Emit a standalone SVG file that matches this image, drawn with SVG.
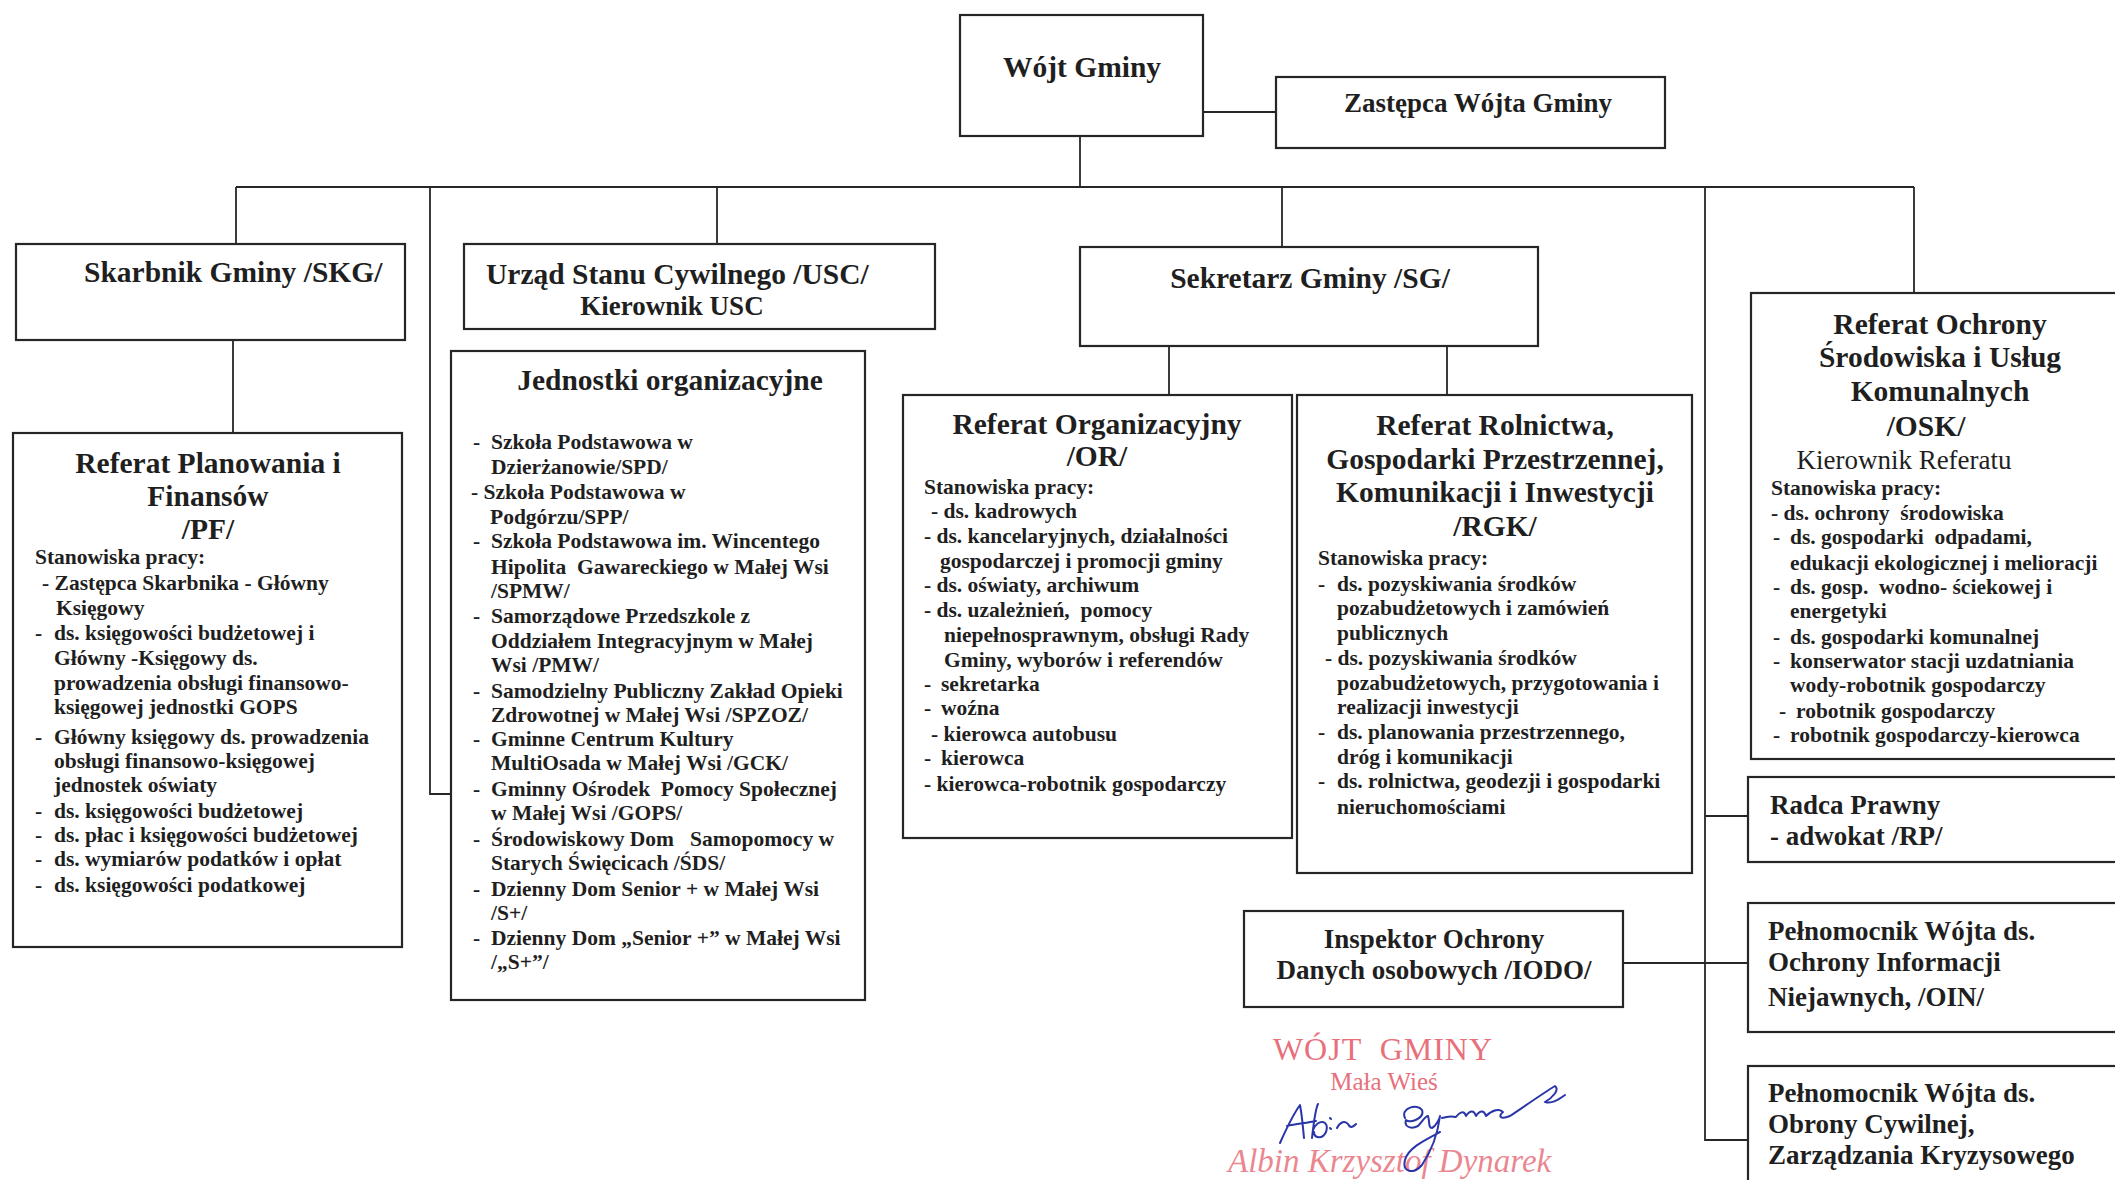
<svg xmlns="http://www.w3.org/2000/svg" width="2115" height="1180" viewBox="0 0 2115 1180">
<style>
.box{fill:#fff;stroke:#262626;stroke-width:2.2}
.conn{fill:none;stroke:#262626;stroke-width:1.8}
.t{font-family:"Liberation Serif","Times New Roman",serif;font-weight:bold;fill:#1f1f1f;white-space:pre}
.ti{font-size:29.5px;text-anchor:middle}
.hd{font-size:29.5px}
.md{font-size:27px}
.b{font-size:21.5px}
.reg{font-weight:normal}
.c{text-anchor:middle}
.stamp{font-family:"Liberation Serif","Times New Roman",serif;fill:#e8707c;white-space:pre}
.sig{fill:none;stroke:#2a35a8;stroke-width:2;stroke-linecap:round;stroke-linejoin:round}
</style>
<rect width="2115" height="1180" fill="#fff"/>

<g id="connectors">
<path class="conn" d="M1203,112 H1276"/>
<path class="conn" d="M1080,136 V187"/>
<path class="conn" d="M236,187 H1914"/>
<path class="conn" d="M236,187 V244"/>
<path class="conn" d="M430,187 V794 H451"/>
<path class="conn" d="M717,187 V244"/>
<path class="conn" d="M1282,187 V248"/>
<path class="conn" d="M1705,187 V1140 H1748"/>
<path class="conn" d="M1914,187 V293"/>
<path class="conn" d="M233,340 V433"/>
<path class="conn" d="M1169,346 V394"/>
<path class="conn" d="M1447,346 V395"/>
<path class="conn" d="M1705,816 H1748"/>
<path class="conn" d="M1623,963 H1748"/>
</g>

<g id="wojt">
<rect class="box" x="960" y="15" width="243" height="121"/>
<text class="t ti" x="1082" y="77">Wójt Gminy</text>
</g>

<g id="zastepca">
<rect class="box" x="1276" y="77" width="389" height="71"/>
<text class="t md c" x="1478" y="112">Zastępca Wójta Gminy</text>
</g>

<g id="skarbnik">
<rect class="box" x="16" y="244" width="389" height="96"/>
<text class="t hd" x="84" y="282">Skarbnik Gminy /SKG/</text>
</g>

<g id="usc">
<rect class="box" x="464" y="244" width="471" height="85"/>
<text class="t hd" x="486" y="284">Urząd Stanu Cywilnego /USC/</text>
<text class="t md c" x="672" y="315">Kierownik USC</text>
</g>

<g id="sekretarz">
<rect class="box" x="1080" y="247" width="458" height="99"/>
<text class="t ti" x="1310" y="288">Sekretarz Gminy /SG/</text>
</g>

<g id="pf">
<rect class="box" x="13" y="433" width="389" height="514"/>
<text class="t ti" x="208" y="473">Referat Planowania i</text>
<text class="t ti" x="208" y="506">Finansów</text>
<text class="t ti" x="208" y="539">/PF/</text>
<text class="t b" x="35" y="564">Stanowiska pracy:</text>
<text class="t b" x="42" y="590">- Zastępca Skarbnika - Główny</text>
<text class="t b" x="56" y="615">Księgowy</text>
<text class="t b" x="35" y="640">-</text><text class="t b" x="54" y="640">ds. księgowości budżetowej i</text>
<text class="t b" x="54" y="665">Główny -Księgowy ds.</text>
<text class="t b" x="54" y="690">prowadzenia obsługi finansowo-</text>
<text class="t b" x="54" y="714">księgowej jednostki GOPS</text>
<text class="t b" x="35" y="744">-</text><text class="t b" x="54" y="744">Główny księgowy ds. prowadzenia</text>
<text class="t b" x="54" y="768">obsługi finansowo-księgowej</text>
<text class="t b" x="54" y="792">jednostek oświaty</text>
<text class="t b" x="35" y="818">-</text><text class="t b" x="54" y="818">ds. księgowości budżetowej</text>
<text class="t b" x="35" y="842">-</text><text class="t b" x="54" y="842">ds. płac i księgowości budżetowej</text>
<text class="t b" x="35" y="866">-</text><text class="t b" x="54" y="866">ds. wymiarów podatków i opłat</text>
<text class="t b" x="35" y="892">-</text><text class="t b" x="54" y="892">ds. księgowości podatkowej</text>
</g>

<g id="jednostki">
<rect class="box" x="451" y="351" width="414" height="649"/>
<text class="t ti" x="670" y="390">Jednostki organizacyjne</text>
<text class="t b" x="473" y="449">-</text><text class="t b" x="491" y="449">Szkoła Podstawowa w</text>
<text class="t b" x="491" y="474">Dzierżanowie/SPD/</text>
<text class="t b" x="471" y="499">- Szkoła Podstawowa w</text>
<text class="t b" x="490" y="524">Podgórzu/SPP/</text>
<text class="t b" x="473" y="548">-</text><text class="t b" x="491" y="548">Szkoła Podstawowa im. Wincentego</text>
<text class="t b" x="491" y="574">Hipolita  Gawareckiego w Małej Wsi</text>
<text class="t b" x="491" y="598">/SPMW/</text>
<text class="t b" x="473" y="623">-</text><text class="t b" x="491" y="623">Samorządowe Przedszkole z</text>
<text class="t b" x="491" y="648">Oddziałem Integracyjnym w Małej</text>
<text class="t b" x="491" y="672">Wsi /PMW/</text>
<text class="t b" x="473" y="698">-</text><text class="t b" x="491" y="698">Samodzielny Publiczny Zakład Opieki</text>
<text class="t b" x="491" y="722">Zdrowotnej w Małej Wsi /SPZOZ/</text>
<text class="t b" x="473" y="746">-</text><text class="t b" x="491" y="746">Gminne Centrum Kultury</text>
<text class="t b" x="491" y="770">MultiOsada w Małej Wsi /GCK/</text>
<text class="t b" x="473" y="796">-</text><text class="t b" x="491" y="796">Gminny Ośrodek  Pomocy Społecznej</text>
<text class="t b" x="491" y="820">w Małej Wsi /GOPS/</text>
<text class="t b" x="473" y="846">-</text><text class="t b" x="491" y="846">Środowiskowy Dom   Samopomocy w</text>
<text class="t b" x="491" y="870">Starych Święcicach /ŚDS/</text>
<text class="t b" x="473" y="896">-</text><text class="t b" x="491" y="896">Dzienny Dom Senior + w Małej Wsi</text>
<text class="t b" x="491" y="920">/S+/</text>
<text class="t b" x="473" y="945">-</text><text class="t b" x="491" y="945">Dzienny Dom „Senior +” w Małej Wsi</text>
<text class="t b" x="491" y="969">/„S+”/</text>
</g>

<g id="or">
<rect class="box" x="903" y="395" width="389" height="443"/>
<text class="t ti" x="1097" y="434">Referat Organizacyjny</text>
<text class="t ti" x="1097" y="466">/OR/</text>
<text class="t b" x="924" y="494">Stanowiska pracy:</text>
<text class="t b" x="931" y="518">- ds. kadrowych</text>
<text class="t b" x="924" y="543">- ds. kancelaryjnych, działalności</text>
<text class="t b" x="940" y="568">gospodarczej i promocji gminy</text>
<text class="t b" x="924" y="592">- ds. oświaty, archiwum</text>
<text class="t b" x="924" y="617">- ds. uzależnień,  pomocy</text>
<text class="t b" x="944" y="642">niepełnosprawnym, obsługi Rady</text>
<text class="t b" x="944" y="667">Gminy, wyborów i referendów</text>
<text class="t b" x="924" y="691">-</text><text class="t b" x="941" y="691">sekretarka</text>
<text class="t b" x="924" y="715">-</text><text class="t b" x="941" y="715">woźna</text>
<text class="t b" x="931" y="741">- kierowca autobusu</text>
<text class="t b" x="924" y="765">-</text><text class="t b" x="941" y="765">kierowca</text>
<text class="t b" x="924" y="791">- kierowca-robotnik gospodarczy</text>
</g>

<g id="rgk">
<rect class="box" x="1297" y="395" width="395" height="478"/>
<text class="t ti" x="1495" y="435">Referat Rolnictwa,</text>
<text class="t ti" x="1495" y="469">Gospodarki Przestrzennej,</text>
<text class="t ti" x="1495" y="502">Komunikacji i Inwestycji</text>
<text class="t ti" x="1495" y="536">/RGK/</text>
<text class="t b" x="1318" y="565">Stanowiska pracy:</text>
<text class="t b" x="1318" y="591">-</text><text class="t b" x="1337" y="591">ds. pozyskiwania środków</text>
<text class="t b" x="1337" y="615">pozabudżetowych i zamówień</text>
<text class="t b" x="1337" y="640">publicznych</text>
<text class="t b" x="1325" y="665">- ds. pozyskiwania środków</text>
<text class="t b" x="1337" y="690">pozabudżetowych, przygotowania i</text>
<text class="t b" x="1337" y="714">realizacji inwestycji</text>
<text class="t b" x="1318" y="739">-</text><text class="t b" x="1337" y="739">ds. planowania przestrzennego,</text>
<text class="t b" x="1337" y="764">dróg i komunikacji</text>
<text class="t b" x="1318" y="788">-</text><text class="t b" x="1337" y="788">ds. rolnictwa, geodezji i gospodarki</text>
<text class="t b" x="1337" y="814">nieruchomościami</text>
</g>

<g id="osk">
<rect class="box" x="1751" y="293" width="380" height="466"/>
<text class="t ti" x="1940" y="334">Referat Ochrony</text>
<text class="t ti" x="1940" y="367">Środowiska i Usług</text>
<text class="t ti" x="1940" y="401">Komunalnych</text>
<text class="t ti" x="1926" y="436">/OSK/</text>
<text class="t reg md c" x="1904" y="469">Kierownik Referatu</text>
<text class="t b" x="1771" y="495">Stanowiska pracy:</text>
<text class="t b" x="1771" y="520">- ds. ochrony  środowiska</text>
<text class="t b" x="1773" y="544">-</text><text class="t b" x="1790" y="544">ds. gospodarki  odpadami,</text>
<text class="t b" x="1790" y="570">edukacji ekologicznej i melioracji</text>
<text class="t b" x="1773" y="594">-</text><text class="t b" x="1790" y="594">ds. gosp.  wodno- ściekowej i</text>
<text class="t b" x="1790" y="618">energetyki</text>
<text class="t b" x="1773" y="644">-</text><text class="t b" x="1790" y="644">ds. gospodarki komunalnej</text>
<text class="t b" x="1773" y="668">-</text><text class="t b" x="1790" y="668">konserwator stacji uzdatniania</text>
<text class="t b" x="1790" y="692">wody-robotnik gospodarczy</text>
<text class="t b" x="1779" y="718">-</text><text class="t b" x="1796" y="718">robotnik gospodarczy</text>
<text class="t b" x="1773" y="742">-</text><text class="t b" x="1790" y="742">robotnik gospodarczy-kierowca</text>
</g>

<g id="radca">
<rect class="box" x="1748" y="777" width="383" height="85"/>
<text class="t md" x="1770" y="814">Radca Prawny</text>
<text class="t md" x="1770" y="845">- adwokat /RP/</text>
</g>

<g id="iodo">
<rect class="box" x="1244" y="911" width="379" height="96"/>
<text class="t md c" x="1434" y="948">Inspektor Ochrony</text>
<text class="t md c" x="1434" y="979">Danych osobowych /IODO/</text>
</g>

<g id="oin">
<rect class="box" x="1748" y="903" width="383" height="129"/>
<text class="t md" x="1768" y="940">Pełnomocnik Wójta ds.</text>
<text class="t md" x="1768" y="971">Ochrony Informacji</text>
<text class="t md" x="1768" y="1006">Niejawnych, /OIN/</text>
</g>

<g id="obrona">
<rect class="box" x="1748" y="1066" width="383" height="130"/>
<text class="t md" x="1768" y="1102">Pełnomocnik Wójta ds.</text>
<text class="t md" x="1768" y="1133">Obrony Cywilnej,</text>
<text class="t md" x="1768" y="1164">Zarządzania Kryzysowego</text>
</g>

<g id="stamp">
<text class="stamp" x="1383" y="1060" text-anchor="middle" font-size="32" letter-spacing="1">WÓJT  GMINY</text>
<text class="stamp" x="1384" y="1090" text-anchor="middle" font-size="25">Mała Wieś</text>
<text class="stamp" x="1228" y="1172" font-size="33" font-style="italic" fill-opacity="0.85">Albin Krzysztof Dynarek</text>
<path class="sig" d="M1280,1143 C1288,1125 1295,1112 1300,1105 C1302,1115 1303,1128 1304,1138 M1287,1126 C1296,1124 1306,1123 1316,1121 M1312,1138 C1314,1120 1316,1108 1318,1104 M1313,1130 C1318,1118 1330,1120 1326,1132 C1322,1140 1314,1138 1314,1132 M1330,1118 l1,1 M1330,1128 l1,1 M1337,1128 C1340,1122 1345,1120 1348,1124 C1350,1128 1352,1128 1356,1124 M1405,1118 C1400,1108 1418,1103 1422,1110 C1425,1118 1410,1124 1406,1120 C1404,1126 1410,1130 1418,1126 C1422,1122 1425,1116 1428,1116 C1430,1122 1428,1128 1432,1128 C1436,1126 1440,1118 1440,1116 C1438,1132 1432,1150 1422,1165 C1413,1175 1402,1172 1405,1160 C1408,1148 1425,1140 1440,1132 M1442,1118 C1448,1116 1452,1116 1456,1117 C1460,1112 1464,1110 1466,1116 C1470,1110 1474,1110 1476,1116 C1480,1110 1484,1110 1486,1116 C1492,1110 1500,1108 1503,1112 C1498,1116 1500,1120 1510,1116 C1522,1108 1545,1092 1555,1086 C1560,1090 1552,1098 1545,1102 C1552,1104 1558,1100 1565,1095"/>
</g>
</svg>
